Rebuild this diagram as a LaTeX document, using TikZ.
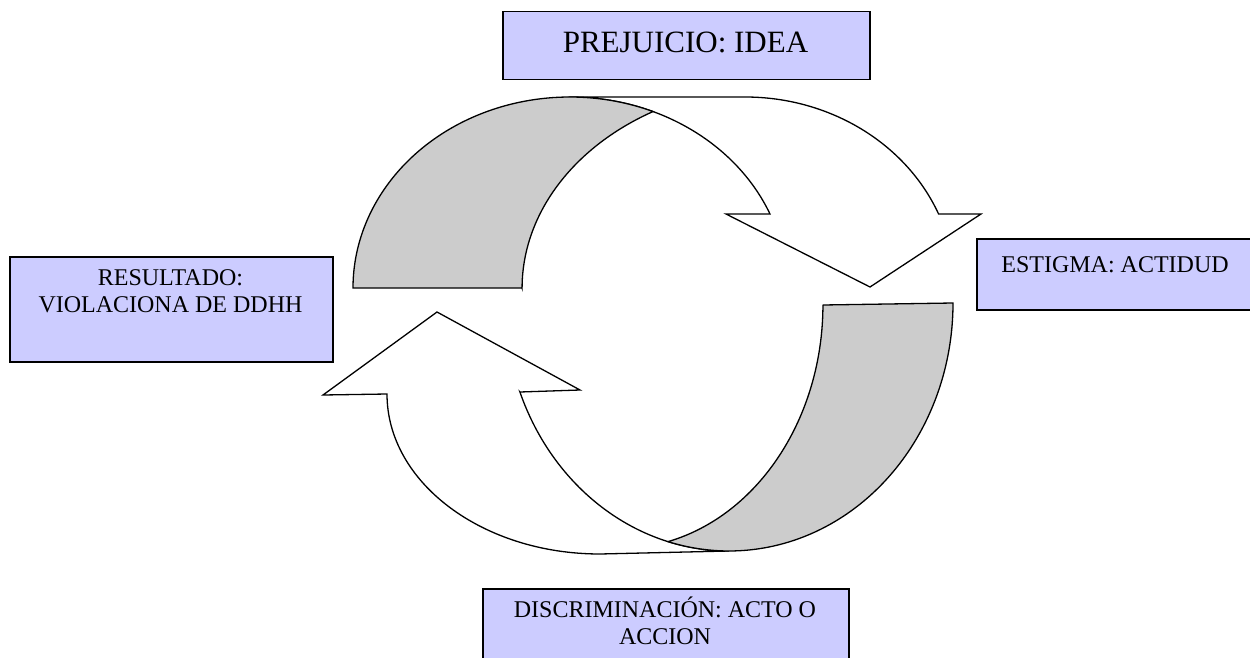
\documentclass[tikz,border=0pt]{standalone}
\usepackage{fontspec}
\setmainfont{Liberation Serif}
\definecolor{boxfill}{RGB}{204,204,255}
\definecolor{grayfill}{RGB}{204,204,204}
\begin{document}
\begin{tikzpicture}[x=1pt,y=-1pt,
  box/.style={draw=black, fill=boxfill, line width=1.5pt, anchor=north west, inner sep=0pt},
  lbl/.style={inner sep=0pt, align=center, text=black, font=\fontsize{24}{27.6}\selectfont},
  bigarrow/.style={draw=black, line width=1.3pt, line join=miter, fill=white},
  backpart/.style={draw=black, line width=1.3pt, line join=miter, fill=grayfill}
]
\useasboundingbox (0,0) rectangle (1250,658);
\clip (0,0) rectangle (1250,658);

% boxes
\node[box, minimum width=367pt, minimum height=68pt] (prej) at (502,11) {};
\node[box, minimum width=280pt, minimum height=71pt] (estig) at (976,238) {};
\node[box, minimum width=323pt, minimum height=105pt] (resul) at (9,256) {};
\node[box, minimum width=366pt, minimum height=90pt] (discr) at (482,588) {};

% labels
\node[lbl, anchor=base, font=\fontsize{31}{36}\selectfont] (prejt) at (685.5,53) {PREJUICIO: IDEA};
\node[lbl, anchor=base] (estigt) at (1115,272) {ESTIGMA: ACTIDUD};
\node[lbl, anchor=north] (result) at (170.5,263) {\rule{0pt}{22pt}RESULTADO:\\VIOLACIONA DE DDHH};
\node[lbl, anchor=north] (discrt) at (665,595) {\rule{0pt}{22pt}DISCRIMINACIÓN: ACTO O\\ACCION};

% upper curved arrow: front (white) part
\path[bigarrow] (570,97) -- (745,97)
  arc[start angle=90, end angle=22.8, x radius=210pt, y radius=191pt]
  -- (981,214) -- (870,287) -- (726,214) -- (770,214)
  arc[start angle=22.8, end angle=90, x radius=217pt, y radius=191pt]
  -- cycle;
% upper curved arrow: back (gray) part
\path[backpart] (522,288) -- (353,288)
  arc[start angle=180, end angle=67.5, x radius=217pt, y radius=191pt]
  arc[start angle=119.5, end angle=180, x radius=258pt, y radius=203pt]
  -- cycle;

% lower curved arrow: front (white) part
\path[bigarrow] (520,392) -- (580,390) -- (437,312) -- (323,395) -- (387,394)
  arc[start angle=180, end angle=270, x radius=213pt, y radius=160pt]
  -- (729,551)
  arc[start angle=-90, end angle=-159, x radius=224pt, y radius=248pt]
  -- cycle;
% lower curved arrow: back (gray) part
\path[backpart] (823,305) -- (953,303)
  arc[start angle=0, end angle=-105.8, x radius=224pt, y radius=248pt]
  arc[start angle=-76.3, end angle=0, x radius=203pt, y radius=244pt]
  -- cycle;
\end{tikzpicture}
\end{document}
